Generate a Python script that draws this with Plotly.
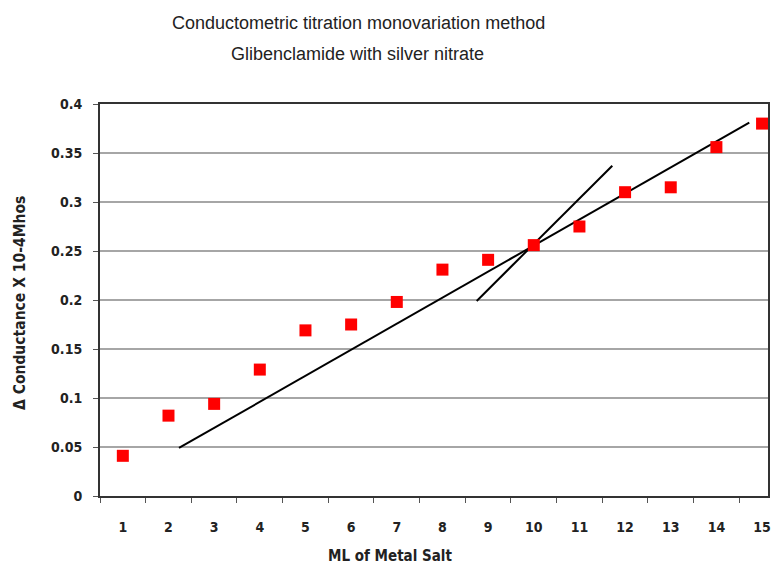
import plotly.graph_objects as go

# Data
ml_salt = [1, 2, 3, 4, 5, 6, 7, 8, 9, 10, 11, 12, 13, 14, 15]
conductance = [0.041, 0.082, 0.094, 0.129, 0.169, 0.175, 0.198, 0.231, 0.241,
               0.256, 0.275, 0.310, 0.315, 0.356, 0.380]
line1_x = [2.23, 14.72]
line1_y = [0.049, 0.381]
line2_x = [8.75, 11.72]
line2_y = [0.199, 0.337]
x_tick_labels = [str(v) for v in ml_salt]
y_tick_vals = [0, 0.05, 0.1, 0.15, 0.2, 0.25, 0.3, 0.35, 0.4]
y_tick_labels = ["0", "0.05", "0.1", "0.15", "0.2", "0.25", "0.3", "0.35", "0.4"]
title_lines = ["Conductometric titration monovariation method",
               "Glibenclamide with silver nitrate"]

W, H = 772, 565
ML, MR, MT, MB = 100, 4, 104, 69

fig = go.Figure()
fig.add_trace(go.Scatter(x=line1_x, y=line1_y, mode="lines",
                         line=dict(color="black", width=2), showlegend=False))
fig.add_trace(go.Scatter(x=line2_x, y=line2_y, mode="lines",
                         line=dict(color="black", width=2), showlegend=False))
fig.add_trace(go.Scatter(x=ml_salt, y=conductance, mode="markers",
                         marker=dict(symbol="square", size=12, color="#ff0000"),
                         showlegend=False, cliponaxis=False))

narrow = "Liberation Sans Narrow, DejaVu Sans Condensed, Arial, sans-serif"
tick_font = dict(family=narrow, size=14, color="#222", weight="bold")

pw = W - ML - MR
ph = H - MT - MB
def px_to_paper(xp, yp):
    return (xp - ML) / pw, (H - MB - yp) / ph

t1x, t1y = px_to_paper(358, 23)
t2x, t2y = px_to_paper(357, 54)
bx, by = px_to_paper(390, 556)
cx, cy = px_to_paper(20, 303)

title_font = dict(family="Liberation Sans, Arial, sans-serif", size=18, color="#222")

fig.update_layout(
    width=W, height=H,
    margin=dict(l=ML, r=MR, t=MT, b=MB, autoexpand=False),
    paper_bgcolor="white", plot_bgcolor="white",
    xaxis=dict(
        range=[0.5, 15.13], tickmode="array", tickvals=ml_salt, ticktext=x_tick_labels,
        ticks="", showgrid=False, zeroline=False, automargin=False,
        showline=True, mirror=True, linecolor="#333", linewidth=2,
        tickfont=tick_font, ticklabelstandoff=17,
        minor=dict(tickmode="linear", tick0=0.5, dtick=1, ticks="outside",
                   ticklen=5, tickwidth=1, tickcolor="#555", showgrid=False),
    ),
    yaxis=dict(
        range=[0, 0.4], tickmode="array", tickvals=y_tick_vals, ticktext=y_tick_labels,
        ticks="outside", ticklen=5, tickwidth=1, tickcolor="#555", automargin=False,
        showgrid=True, gridcolor="#a6a6a6", gridwidth=2, zeroline=False,
        showline=True, mirror=True, linecolor="#333", linewidth=2,
        tickfont=tick_font, ticklabelstandoff=8,
    ),
    annotations=[
        dict(text=title_lines[0], x=t1x, y=t1y, xref="paper", yref="paper",
             xanchor="center", yanchor="middle", showarrow=False, font=title_font),
        dict(text=title_lines[1], x=t2x, y=t2y, xref="paper", yref="paper",
             xanchor="center", yanchor="middle", showarrow=False, font=title_font),
        dict(text="ML of Metal Salt", x=bx, y=by, xref="paper", yref="paper",
             xanchor="center", yanchor="middle", showarrow=False,
             font=dict(family=narrow, size=15, color="#222", weight="bold")),
        dict(text="Δ Conductance X 10-4Mhos", x=cx, y=cy, xref="paper", yref="paper",
             xanchor="center", yanchor="middle", showarrow=False, textangle=-90,
             font=dict(family=narrow, size=15.5, color="#222", weight="bold")),
    ],
)

fig.write_html("out.html", config={"displayModeBar": False},
               post_script="document.body.style.margin='0';document.body.style.overflow='hidden';")
